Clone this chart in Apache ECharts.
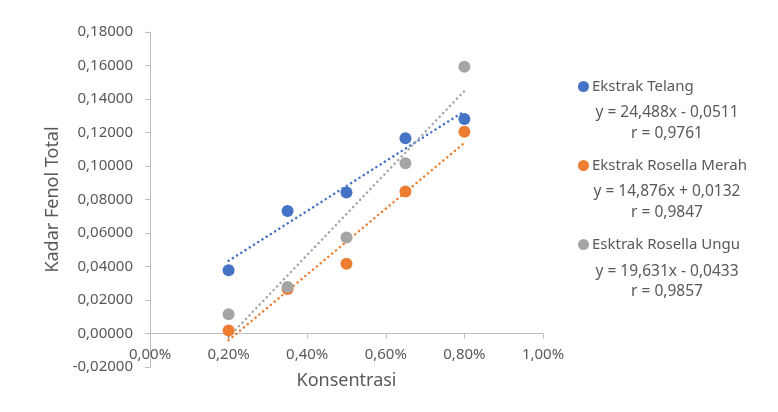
<!DOCTYPE html>
<html><head><meta charset="utf-8">
<script src="https://cdn.jsdelivr.net/npm/echarts@6/dist/echarts.min.js"></script>
<style>html,body{margin:0;padding:0;background:#fff}#c{width:778px;height:412px}</style>
</head><body><div id="c"></div>
<script>
var konsentrasi = [0.002, 0.0035, 0.005, 0.0065, 0.008];
var telang = [0.0378, 0.0731, 0.0842, 0.1166, 0.1280];
var rosellaMerah = [0.0018, 0.0265, 0.0416, 0.0848, 0.1204];
var rosellaUngu = [0.0115, 0.0278, 0.0573, 0.1017, 0.1593];
var trendX = [0.002, 0.008];
var telangTrend = [0.0434, 0.1327];
var merahTrend = [-0.0040, 0.1138];
var unguTrend = [-0.0021, 0.1448];
var seriesNames = ['Ekstrak Telang', 'Ekstrak Rosella Merah', 'Esktrak Rosella Ungu'];
var equations = ['y = 24,488x - 0,0511', 'y = 14,876x + 0,0132', 'y = 19,631x - 0,0433'];
var rValues = ['r = 0,9761', 'r = 0,9847', 'r = 0,9857'];

var colors = ['#4472C4', '#ED7D31', '#A5A5A5'];
var FONT = 'Noto Sans';
var TXT = '#595959';

function pairs(xs, ys){ return xs.map(function(x,i){return [x, ys[i]];}); }

var chart = echarts.init(document.getElementById('c'));
var pts = [telang, rosellaMerah, rosellaUngu];
var trends = [telangTrend, merahTrend, unguTrend];
var series = [];
pts.forEach(function(d, i){
  series.push({
    name: seriesNames[i], type: 'scatter', data: pairs(konsentrasi, d),
    symbolSize: 12, itemStyle: {color: colors[i], opacity: 1}, z: 3
  });
});
trends.forEach(function(d, i){
  series.push({
    name: seriesNames[i] + ' trend', type: 'line', data: pairs(trendX, d),
    symbol: 'none', silent: true, z: 2,
    lineStyle: {color: colors[i], width: 2.5, type: [0.1, 4.9], cap: 'round'}
  });
});

var legendTops = [79, 158, 237];
var legends = seriesNames.map(function(n, i){
  return {
    data: [{name: n, icon: 'circle', itemStyle: {opacity: 1}}], left: 578, top: legendTops[i],
    itemWidth: 11, itemHeight: 11, itemGap: 0, padding: 0,
    textStyle: {fontFamily: FONT, fontSize: 15, color: TXT, padding: [0,0,0,-2]},
    selectedMode: false
  };
});

var eqY = [[113, 134], [192, 213], [272, 292]];
var graphics = [];
eqY.forEach(function(ys, i){
  graphics.push({type:'text', x: 667, y: ys[0], style:{text: equations[i], font: '15.5px "Noto Sans"', fill: TXT, align:'center', verticalAlign:'middle'}});
  graphics.push({type:'text', x: 667, y: ys[1], style:{text: rValues[i], font: '15.5px "Noto Sans"', fill: TXT, align:'center', verticalAlign:'middle'}});
});

chart.setOption({
  animation: false,
  grid: {left: 150, right: 235, top: 32, bottom: 45, containLabel: false, outerBoundsMode: 'none'},
  legend: legends,
  graphic: graphics,
  xAxis: {
    type: 'value', min: 0, max: 0.01, interval: 0.002,
    position: 'bottom', offset: -33.5,
    axisLine: {onZero: false, lineStyle: {color: '#BFBFBF', width: 1}},
    axisTick: {show: true, inside: false, length: 5, lineStyle: {color: '#BFBFBF'}},
    splitLine: {show: false},
    axisLabel: {margin: 14, fontFamily: FONT, fontSize: 15, color: TXT,
      formatter: function(v){ return (v*100).toFixed(2).replace('.', ',') + '%'; }},
    name: 'Konsentrasi', nameLocation: 'middle', nameGap: 38,
    nameTextStyle: {fontFamily: FONT, fontSize: 18, color: TXT}
  },
  yAxis: {
    type: 'value', min: -0.02, max: 0.18, interval: 0.02,
    axisLine: {show: true, onZero: false, lineStyle: {color: '#BFBFBF', width: 1}},
    axisTick: {show: true, length: 5, lineStyle: {color: '#BFBFBF'}},
    splitLine: {show: false},
    axisLabel: {margin: 17, fontFamily: FONT, fontSize: 15, color: TXT,
      formatter: function(v){ return v.toFixed(5).replace('.', ','); }},
    name: 'Kadar Fenol Total', nameLocation: 'middle', nameGap: 86,
    nameTextStyle: {fontFamily: FONT, fontSize: 18, color: TXT}
  },
  series: series
});
</script></body></html>
